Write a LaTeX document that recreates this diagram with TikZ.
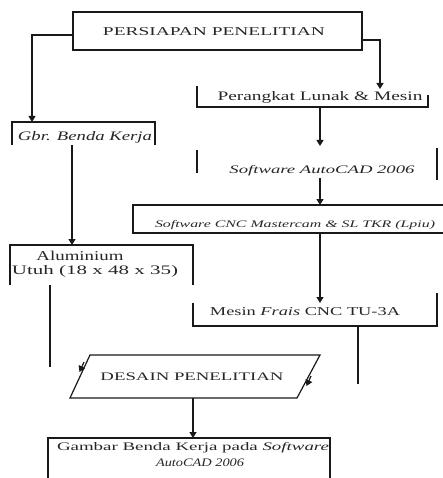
\documentclass[tikz,border=0pt]{standalone}
\usepackage{fontspec}
\setmainfont{Liberation Serif}
\usetikzlibrary{arrows.meta}
\newcommand\wt[2]{\resizebox{#1}{\height}{#2}}
\begin{document}
\begin{tikzpicture}[x=1pt,y=-1pt,
  ln/.style={draw=black!90, line width=1.2pt},
  arr/.style={ln,-{Triangle[length=6pt,width=7pt]}},
  fr/.style={inner sep=0pt, outer sep=0pt, draw=none},
  lbl/.style={inner sep=0pt, outer sep=0pt, text=black!85}
]
\useasboundingbox (0,0) rectangle (443,478);
\clip (0,0) rectangle (443,478);

% frames
\node[fr, minimum width=289pt, minimum height=38pt] (top) at (217.5,31) {};
\node[fr, minimum width=231pt, minimum height=21pt] (per) at (312.5,96.5) {};
\node[fr, minimum width=143pt, minimum height=23pt] (gbr) at (83.5,133.5) {};
\node[fr, minimum width=240pt, minimum height=32pt] (sw) at (317,164) {};
\node[fr, minimum width=312pt, minimum height=28pt] (cnc) at (289,219) {};
\node[fr, minimum width=183pt, minimum height=40pt] (alu) at (101.5,265) {};
\node[fr, minimum width=244pt, minimum height=28pt] (mes) at (315,312) {};
\node[fr, minimum width=282pt, minimum height=44pt] (gam) at (189,460) {};

% parallelogram corners
\coordinate (dtl) at (90,355);
\coordinate (dtr) at (320,355);
\coordinate (dbr) at (297,398);
\coordinate (dbl) at (70,398);

% texts
\node[lbl, font=\fontsize{12}{14}\selectfont] (top-t) at (214,32) {\wt{222pt}{PERSIAPAN PENELITIAN}};
\node[lbl, font=\fontsize{13}{15}\selectfont] (per-t) at (320,97) {\wt{205pt}{Perangkat Lunak \& Mesin}};
\node[lbl, font=\fontsize{13}{15}\selectfont\itshape] (gbr-t) at (85,137) {\wt{134pt}{Gbr. Benda Kerja}};
\node[lbl, font=\fontsize{11.5}{14}\selectfont\itshape] (sw-t) at (322,171) {\wt{185pt}{Software AutoCAD 2006}};
\node[lbl, font=\fontsize{10}{12}\selectfont\itshape, anchor=west] (cnc-t) at (155,225) {\wt{280pt}{Software CNC Mastercam \& SL TKR (Lpiu)}};
\node[lbl, font=\fontsize{13.5}{16}\selectfont] (alu-t1) at (80,256) {\wt{87pt}{Aluminium}};
\node[lbl, font=\fontsize{13}{15}\selectfont] (alu-t2) at (95,271) {\wt{166pt}{Utuh (18 x 48 x 35)}};
\node[lbl, font=\fontsize{12}{14}\selectfont] (mes-t) at (305,312) {\wt{190pt}{Mesin \textit{Frais} CNC TU-3A}};
\node[lbl, font=\fontsize{11.5}{14}\selectfont] (des) at (192,377) {\wt{183pt}{DESAIN PENELITIAN}};
\node[lbl, font=\fontsize{11.5}{14}\selectfont] (gam-t1) at (193,448) {\wt{272pt}{Gambar Benda Kerja pada \textit{Software}}};
\node[lbl, font=\fontsize{11.5}{14}\selectfont\itshape] (gam-t2) at (200,463) {\wt{88pt}{AutoCAD 2006}};

% box outlines (visible sides only)
\draw[ln] (top.north west) rectangle (top.south east);
\draw[ln] (per.north west) -- (per.south west) -- (per.south east) -- ([yshift=12pt]per.south east);
\draw[ln] (gbr.south west) -- (gbr.north west) -- (gbr.north east) -- (gbr.south east);
\draw[ln] ([yshift=-2pt]sw.north west) -- ([yshift=7pt]sw.south west);
\draw[ln] (sw.north east) -- (sw.south east);
\draw[ln] (cnc.north east) -- (cnc.north west) -- (cnc.south west) -- (cnc.south east);
\draw[ln] (alu.south west) -- (alu.north west) -- (alu.north east) -- (alu.south east);
\draw[ln] ([yshift=-5pt]mes.north west) -- (mes.south west) -- (mes.south east) -- ([yshift=5pt]mes.north east);
\draw[ln] (dtl) -- (dtr) -- (dbr) -- (dbl) -- cycle;
\draw[ln] (gam.south west) -- (gam.north west) -- (gam.north east) -- (gam.south east);

% connector coordinates
\coordinate (ra) at (380,89);
\coordinate (la) at (32,122);
\coordinate (pb) at (320,107);
\coordinate (swa) at (320,146);
\coordinate (swb) at (320,178);
\coordinate (cnca) at (320,205);
\coordinate (cncb) at (320,233);
\coordinate (mesa) at (320,303);
\coordinate (gbrb) at (72,145);
\coordinate (alua) at (72,245);
\coordinate (alub) at (50,285);
\coordinate (lend) at (50,367);
\coordinate (mesb) at (358,326);
\coordinate (rend) at (358,384);
\coordinate (desb) at (193,398);
\coordinate (gama) at (193,438);
\coordinate (ltipa) at (84,362);
\coordinate (ltipb) at (79.5,372);
\coordinate (rtipa) at (311,376);
\coordinate (rtipb) at (306.5,386);

% connectors
\draw[arr] ([yshift=-4pt]top.west) -| (la);
\draw[arr] ([yshift=-9pt]top.east) -| (ra);
\draw[arr] (pb) -- (swa);
\draw[arr] (swb) -- (cnca);
\draw[arr] (cncb) -- (mesa);
\draw[arr] (gbrb) -- (alua);
\draw[ln] (alub) -- (lend);
\draw[ln] (mesb) -- (rend);
\draw[arr] (desb) -- (gama);
\draw[arr] (ltipa) -- (ltipb);
\draw[arr] (rtipa) -- (rtipb);
\end{tikzpicture}
\end{document}
